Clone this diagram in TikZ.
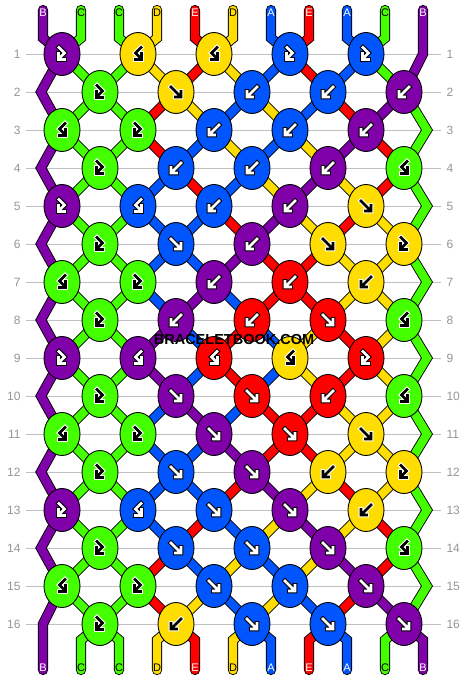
\documentclass[tikz,border=0pt]{standalone}
\usepackage{fontspec}
\usepackage{pdfrender}
\setmainfont{Liberation Sans}
\usetikzlibrary{shapes.geometric}

\definecolor{sA}{RGB}{0,85,255}
\definecolor{sB}{RGB}{128,0,170}
\definecolor{sC}{RGB}{68,255,0}
\definecolor{sD}{RGB}{255,221,0}
\definecolor{sE}{RGB}{255,0,0}
\colorlet{iA}{white}\colorlet{iB}{white}\colorlet{iC}{black}\colorlet{iD}{black}\colorlet{iE}{white}
\colorlet{rA}{black}\colorlet{rB}{black}\colorlet{rC}{white}\colorlet{rD}{white}\colorlet{rE}{black}
\definecolor{numgray}{RGB}{150,150,150}
\definecolor{rulegray}{RGB}{192,192,192}
\definecolor{markgray}{RGB}{70,68,80}
\definecolor{markrim}{RGB}{235,225,245}

\pgfdeclarelayer{rules}
\pgfdeclarelayer{strands}
\pgfsetlayers{rules,strands,main}

\tikzset{
  knot/.style={ellipse, draw=black, line width=0.9pt, fill=s#1,
    minimum width=36pt, minimum height=43pt, inner sep=0pt},
  strand/.style={draw=black, line width=0.9pt, double=s#1,
    double distance=8.4pt, line join=miter},
  rim/.style={draw=r#1, line width=4.8pt, line cap=rect, line join=miter},
  ink/.style={draw=i#1, line width=2.6pt, line cap=rect, line join=miter,
    preaction={rim=#1}},
  tag/.style={text=i#1, font=\fontsize{11}{11}\selectfont, inner sep=0pt},
  rownum/.style={text=numgray, font=\fontsize{12}{12}\selectfont,
    inner xsep=5pt, inner ysep=0pt},
  wmark/.style={font=\fontsize{14.5}{14.5}\selectfont\bfseries, inner sep=0pt},
  pics/fwd/.style={code={\draw[ink=#1] (-5,-5) -- (3.5,3.5) (-0.5,5) -- (5,5) -- (5,-0.5);}},
  pics/bwd/.style={code={\draw[ink=#1] (5,-5) -- (-3.5,3.5) (0.5,5) -- (-5,5) -- (-5,-0.5);}},
  pics/fb/.style={code={\draw[ink=#1] (-3,-6.5) -- (2.5,-1) -- (-2.5,4) (-3.5,-0.5) -- (-3.5,5.5) -- (2.5,5.5);}},
  pics/bf/.style={code={\draw[ink=#1] (3,-6.5) -- (-2.5,-1) -- (2.5,4) (3.5,-0.5) -- (3.5,5.5) -- (-2.5,5.5);}}
}

\begin{document}
\begin{tikzpicture}[x=1pt,y=-1pt]
\useasboundingbox (0,0) rectangle (468,680);

% knots: colour / kind
\foreach \r/\row in {
  1/{B/fb,D/bf,D/bf,A/fb,A/fb},
  2/{C/fb,D/fwd,A/bwd,A/bwd,B/bwd},
  3/{C/bf,C/fb,A/bwd,A/bwd,B/bwd},
  4/{C/fb,A/bwd,A/bwd,B/bwd,C/bf},
  5/{B/fb,A/bf,A/bwd,B/bwd,D/fwd},
  6/{C/fb,A/fwd,B/bwd,D/fwd,D/fb},
  7/{C/bf,C/fb,B/bwd,E/bwd,D/bwd},
  8/{C/fb,B/bwd,E/bwd,E/fwd,C/bf},
  9/{B/fb,B/bf,E/bf,D/bf,E/fb},
  10/{C/fb,B/fwd,E/fwd,E/bwd,C/bf},
  11/{C/bf,C/fb,B/fwd,E/fwd,D/fwd},
  12/{C/fb,A/fwd,B/fwd,D/bwd,D/fb},
  13/{B/fb,A/bf,A/fwd,B/fwd,D/bwd},
  14/{C/fb,A/fwd,A/fwd,B/fwd,C/bf},
  15/{C/bf,C/fb,A/fwd,A/fwd,B/fwd},
  16/{C/fb,D/bwd,A/fwd,A/fwd,B/fwd}}{
  \foreach \c/\t [count=\k] in \row {
    \pgfmathsetmacro\kx{(isodd(\r) ? 62 : 100) + 76*(\k-1)}
    \node[knot=\c] (k-\r-\k) at (\kx,16+38*\r) {};
    \pic at (k-\r-\k) {\t=\c};
  }
}

% string ends
\foreach \c [count=\p] in {B,C,C,D,E,D,A,E,A,C,B}{
  \pgfmathtruncatemacro\sx{5+38*\p}
  \node[tag=\c] (top-\p) at (\sx,13) {\c};
  \node[tag=\c] (bot-\p) at (\sx,668) {\c};
}

\begin{pgfonlayer}{strands}
\foreach \c [count=\p] in {B,C,C,D,E,D,A,E,A,C,B}{
  \pgfmathtruncatemacro\sx{5+38*\p}
  \ifnum\p>1 \ifnum\p<11
    \pgfmathtruncatemacro\kt{(\p+1)/2}
    \draw[strand=\c, line cap=round] (\sx,10) -- (\sx,38) -- (k-1-\kt.center);
  \fi\fi
  \ifnum\p>1
    \pgfmathtruncatemacro\kf{\p/2}
    \draw[strand=\c, line cap=round] (k-16-\kf.center) -- (\sx,640) -- (\sx,670);
  \fi
}

% edges
\draw[strand=B, line cap=round] (43,10) -- (43,38)
  \foreach \r in {1,3,...,13} { -- (k-\r-1.center) -- (41,54+38*\r) }
  -- (k-15-1.center) -- (43,624) -- (43,670);
\draw[strand=B, line cap=round] (423,10) -- (423,54) -- (k-2-5.center);
\draw[strand=C] (k-2-5.center)
  \foreach \r [evaluate=\r as \rn using int(\r+2)] in {2,4,...,14} { -- (427,54+38*\r) -- (k-\rn-5.center) };

% threads between rows: colours of the positions after row r
\foreach \r/\cols in {
  1/{B,C,C,D,E,D,A,E,A,C,B},
  2/{B,C,C,E,D,A,D,A,E,B,C},
  3/{B,C,C,E,A,D,A,D,B,E,C},
  4/{B,C,C,A,E,A,D,B,D,E,C},
  5/{B,C,C,A,A,E,B,D,E,D,C},
  6/{B,C,C,A,A,B,E,E,D,D,C},
  7/{B,C,C,A,B,A,E,E,D,D,C},
  8/{B,C,C,B,A,E,A,D,E,D,C},
  9/{B,C,C,B,A,E,A,D,E,D,C},
  10/{B,C,C,A,B,A,E,E,D,D,C},
  11/{B,C,C,A,A,B,E,E,D,D,C},
  12/{B,C,C,A,A,E,B,D,E,D,C},
  13/{B,C,C,A,E,A,D,B,D,E,C},
  14/{B,C,C,E,A,D,A,D,B,E,C},
  15/{B,C,C,E,D,A,D,A,E,B,C}}{
  \pgfmathtruncatemacro\rn{\r+1}
  \foreach \c [count=\p] in \cols {
    \ifnum\p>1 \ifnum\p<11
      \pgfmathtruncatemacro\kf{isodd(\r) ? (\p+1)/2 : \p/2}
      \pgfmathtruncatemacro\kt{isodd(\r) ? \p/2 : (\p+1)/2}
      \draw[strand=\c] (k-\r-\kf.center) -- (k-\rn-\kt.center);
    \fi\fi
  }
}
\end{pgfonlayer}

% row rules
\begin{pgfonlayer}{rules}
\fill[white] (0,0) rectangle (468,680);
\foreach \r in {1,...,16}
  \draw[rulegray, line width=1pt] (26,16+38*\r) node[rownum, anchor=east] (left-\r) {\r}
    -- (441,16+38*\r) node[rownum, anchor=west] (right-\r) {\r};
\end{pgfonlayer}

\node[wmark] (mark) at (234,340) {\textpdfrender{TextRenderingMode=FillStroke,
  LineWidth=0.7pt, StrokeColor=markrim, FillColor=markgray}{BRACELETBOOK.COM}};
\end{tikzpicture}
\end{document}
